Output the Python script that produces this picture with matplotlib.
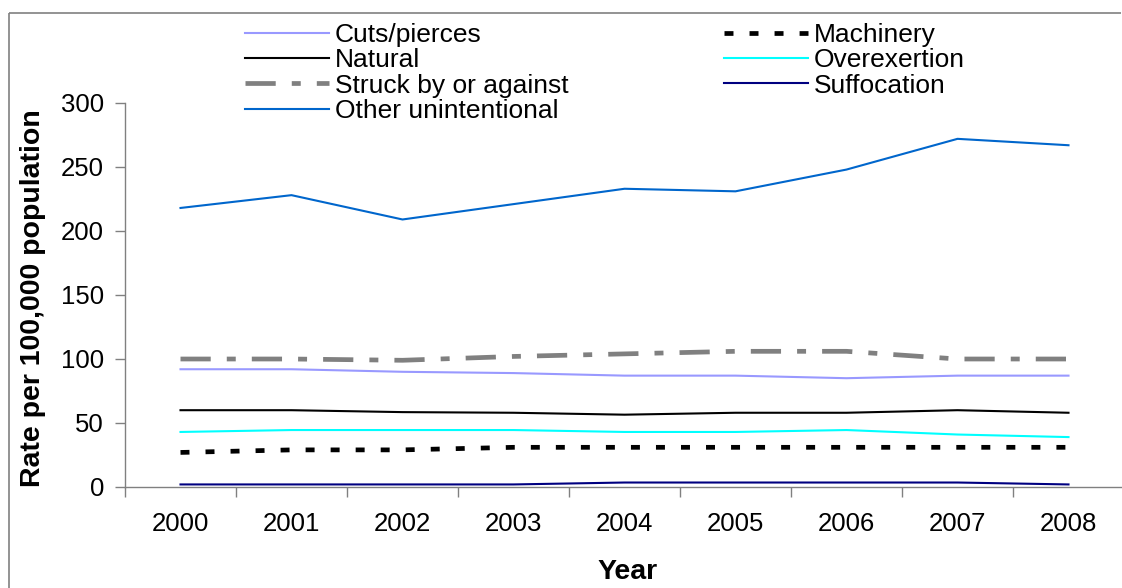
import matplotlib
matplotlib.use("Agg")
import matplotlib.pyplot as plt
from matplotlib.lines import Line2D
import numpy as np

plt.rcParams['font.family'] = ['Liberation Sans', 'DejaVu Sans']

years = ['2000', '2001', '2002', '2003', '2004', '2005', '2006', '2007', '2008']
cuts_pierces = [92, 92, 90, 89, 87, 87, 85, 87, 87]
machinery = [27, 29, 29, 31, 31, 31, 31, 31, 31]
natural = [60, 60, 58.5, 58, 56.5, 58, 58, 60, 58]
overexertion = [43, 44.5, 44.5, 44.5, 43, 43, 44.5, 41, 39]
struck = [100, 100, 99, 102, 104, 106, 106, 100, 100]
suffocation = [2, 2, 2, 2, 3.5, 3.5, 3.5, 3.5, 2]
other_unint = [218, 228, 209, 221, 233, 231, 248, 272, 267]

W, H = 1122, 588
fig = plt.figure(figsize=(W / 100, H / 100), dpi=100)
ax_l, ax_r, ax_b, ax_t = 125, 1124, 487, 103
ax = fig.add_axes([ax_l / W, 1 - ax_b / H, (ax_r - ax_l) / W, (ax_b - ax_t) / H])

x = np.arange(len(years))
lw = 1.5
thick = 3.4
h_cuts, = ax.plot(x, cuts_pierces, color='#9999FF', lw=lw, label='Cuts/pierces')
h_mach, = ax.plot(x, machinery, color='black', lw=thick, label='Machinery',
                  linestyle=(0, (1.9, 3.4)), dash_capstyle='butt')
h_nat, = ax.plot(x, natural, color='black', lw=lw, label='Natural')
h_over, = ax.plot(x, overexertion, color='#00FFFF', lw=lw, label='Overexertion')
h_str, = ax.plot(x, struck, color='#808080', lw=thick, label='Struck by or against',
                 linestyle=(0, (6.4, 3.4, 1.9, 3.4)), dash_capstyle='butt')
h_suf, = ax.plot(x, suffocation, color='#000080', lw=lw, label='Suffocation')
h_oth, = ax.plot(x, other_unint, color='#0066CC', lw=lw, label='Other unintentional')

ax.set_xlim(-0.5, len(years) - 0.5)
ax.set_ylim(0, 300)
ax.set_yticks(np.arange(0, 301, 50))
ax.set_xticks(x)
ax.set_xticklabels(years)
ax.set_xticks(np.arange(-0.5, len(years), 1), minor=True)

gray = '#808080'
for s in ['top', 'right']:
    ax.spines[s].set_visible(False)
for s in ['left', 'bottom']:
    ax.spines[s].set_color(gray)
    ax.spines[s].set_linewidth(1.0)
ax.tick_params(axis='x', which='major', length=0, pad=18, labelsize=18.5)
ax.tick_params(axis='x', which='minor', length=7, width=1.0, color=gray, direction='out')
ax.tick_params(axis='y', which='major', length=7, width=1.0, color=gray, direction='out',
               pad=8, labelsize=18.5)

handles = [h_cuts, h_nat, h_str, h_oth, h_mach, h_over, h_suf]
fs = 19
leg = ax.legend(handles=handles, labels=[h.get_label() for h in handles], ncol=2,
                loc='upper left', bbox_to_anchor=(245 / W, 1 - 23 / H),
                bbox_transform=fig.transFigure, frameon=False, fontsize=fs,
                handlelength=3.2, handletextpad=0.2, columnspacing=5.9,
                labelspacing=0.05, borderpad=0, borderaxespad=0)

fig.text(33 / W, 1 - 298 / H, 'Rate per 100,000 population', rotation=90,
         ha='center', va='center', fontsize=20.5, fontweight='bold')
fig.text(628 / W, 1 - 572 / H, 'Year', ha='center', va='center',
         fontsize=20.5, fontweight='bold')

# chart area border (top and left edges visible in the crop)
fig.add_artist(Line2D([9 / W, 1121 / W], [1 - 12.7 / H, 1 - 12.7 / H], color=gray, lw=1.2,
                      transform=fig.transFigure, solid_capstyle='butt'))
fig.add_artist(Line2D([9 / W, 9 / W], [1 - 12.7 / H, 0], color=gray, lw=1.2,
                      transform=fig.transFigure, solid_capstyle='butt'))

fig.savefig('out.png', dpi=100)
